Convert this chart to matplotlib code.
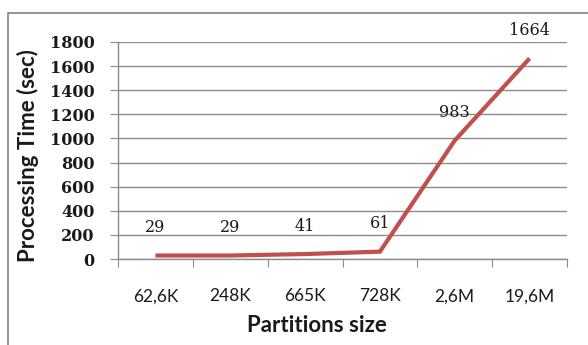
import matplotlib
matplotlib.use("Agg")
import matplotlib.pyplot as plt
from matplotlib.patches import Rectangle

categories = ["62,6K", "248K", "665K", "728K", "2,6M", "19,6M"]
values = [29, 29, 41, 61, 983, 1664]
yticks = [0, 200, 400, 600, 800, 1000, 1200, 1400, 1600, 1800]

W, H = 588, 345
fig = plt.figure(figsize=(W / 100, H / 100), dpi=100)
fig.patch.set_facecolor("white")

# outer chart border (left and top visible)
fig.patches.append(Rectangle((8 / W, -0.1), 1.2, (H - 13) / H + 0.1, transform=fig.transFigure,
                             fill=False, edgecolor="#808080", linewidth=1.2))

left, right, top, bottom = 118, 567, 42, 259
ax = fig.add_axes([left / W, 1 - bottom / H, (right - left) / W, (bottom - top) / H])

x = list(range(len(categories)))
ax.plot(x, values, color="#C0504D", linewidth=3, solid_capstyle="butt", solid_joinstyle="miter", zorder=3)
for xi, v in zip(x, values):
    ax.annotate(str(v), (xi, v), xytext=(0, 20), textcoords="offset points", ha="center", va="center",
                fontsize=11.5, family="DejaVu Serif", color="#1a1a1a")

ax.set_xlim(-0.5, len(categories) - 0.5)
ax.set_ylim(0, 1800)
ax.set_yticks(yticks)
ax.set_yticklabels([str(t) for t in yticks], family="DejaVu Serif", fontsize=11.5, fontweight="bold",
                   color="#1a1a1a")
ax.yaxis.grid(True, color="#8c8c8c", linewidth=1)
ax.set_axisbelow(True)

ax.set_xticks([i + 0.5 for i in range(-1, len(categories))], minor=False)
ax.set_xticklabels([])
ax.set_xticks(x, minor=True)
ax.set_xticklabels(categories, minor=True, family="Lato", fontsize=12.5, color="#1a1a1a")
ax.tick_params(axis="x", which="minor", length=0, pad=21)
ax.tick_params(axis="x", which="major", length=6, color="#8c8c8c", direction="out")
ax.tick_params(axis="y", length=6, color="#8c8c8c", direction="out", pad=11)

for side in ["top", "right"]:
    ax.spines[side].set_visible(False)
for side in ["left", "bottom"]:
    ax.spines[side].set_color("#8c8c8c")
    ax.spines[side].set_linewidth(1)

fig.text(28 / W, 1 - 156 / H, "Processing Time (sec)", rotation=90, ha="center", va="center",
         family="Lato", fontweight="bold", fontsize=16, color="#1a1a1a")
fig.text(317 / W, 1 - 326 / H, "Partitions size", ha="center", va="center",
         family="Lato", fontweight="bold", fontsize=16, color="#1a1a1a")

fig.savefig("out.png", dpi=100)
